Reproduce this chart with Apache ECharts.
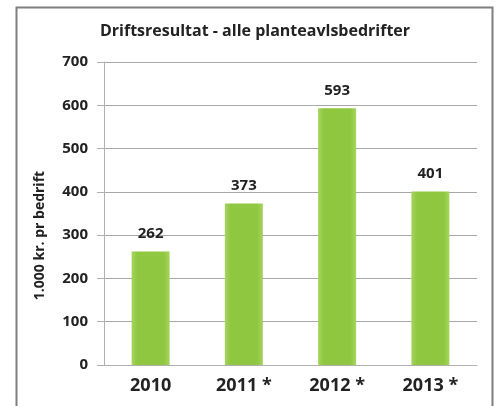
<!DOCTYPE html>
<html>
<head>
<meta charset="utf-8">
<script src="https://cdn.jsdelivr.net/npm/echarts@6/dist/echarts.min.js"></script>
<style>
  html, body { margin: 0; padding: 0; background: #fff; }
  #main { width: 499px; height: 406px; }
</style>
</head>
<body>
<div id="main"></div>
<script>
const categories = ["2010", "2011 *", "2012 *", "2013 *"];
const values = [262, 373, 593, 401];
const yTicks = [0, 100, 200, 300, 400, 500, 600, 700];

const chartDom = document.getElementById("main");
const myChart = echarts.init(chartDom);
const font = "Open Sans, Liberation Sans, sans-serif";

const option = {
  backgroundColor: "#fff",
  animation: false,
  title: {
    text: "Driftsresultat - alle planteavlsbedrifter",
    left: 250,
    textAlign: "center",
    top: 18,
    textStyle: { fontFamily: font, fontWeight: "bold", fontSize: 16, color: "#222" },
  },
  graphic: [
    {
      type: "rect",
      shape: { x: 16.5, y: 7.5, width: 476, height: 420 },
      style: { fill: "none", stroke: "#7f7f7f", lineWidth: 2 },
      silent: true,
    },
  ],
  grid: { left: 104, right: 22, top: 62, bottom: 41, containLabel: false },
  xAxis: {
    type: "category",
    data: categories,
    axisLine: { lineStyle: { color: "#b0b0b0", width: 1 } },
    axisTick: { show: false },
    axisLabel: {
      margin: 12,
      fontFamily: font,
      fontWeight: "bold",
      fontSize: 18,
      color: "#222",
    },
  },
  yAxis: {
    type: "value",
    min: yTicks[0],
    max: yTicks[yTicks.length - 1],
    interval: 100,
    name: "1.000 kr. pr bedrift",
    nameLocation: "middle",
    nameGap: 57,
    nameTextStyle: {
      fontFamily: font,
      fontWeight: "bold",
      fontSize: 14,
      color: "#222",
      padding: [0, 44, 0, 0],
    },
    axisLine: { show: true, lineStyle: { color: "#b0b0b0" } },
    axisTick: { show: true, length: 7, lineStyle: { color: "#b0b0b0" } },
    splitLine: { lineStyle: { color: "#a8a8a8" } },
    axisLabel: {
      margin: 16,
      fontFamily: font,
      fontWeight: "bold",
      fontSize: 15,
      color: "#222",
    },
  },
  series: [
    {
      type: "bar",
      data: values,
      barWidth: 38,
      itemStyle: {
        color: new echarts.graphic.LinearGradient(0, 0, 1, 0, [
          { offset: 0, color: "#a6d55e" },
          { offset: 0.15, color: "#8fc741" },
          { offset: 0.85, color: "#8fc741" },
          { offset: 1, color: "#a6d55e" },
        ]),
      },
      label: {
        show: true,
        position: "top",
        distance: 10,
        fontFamily: font,
        fontWeight: "bold",
        fontSize: 15,
        color: "#222",
      },
    },
  ],
};
option && myChart.setOption(option);
</script>
</body>
</html>
